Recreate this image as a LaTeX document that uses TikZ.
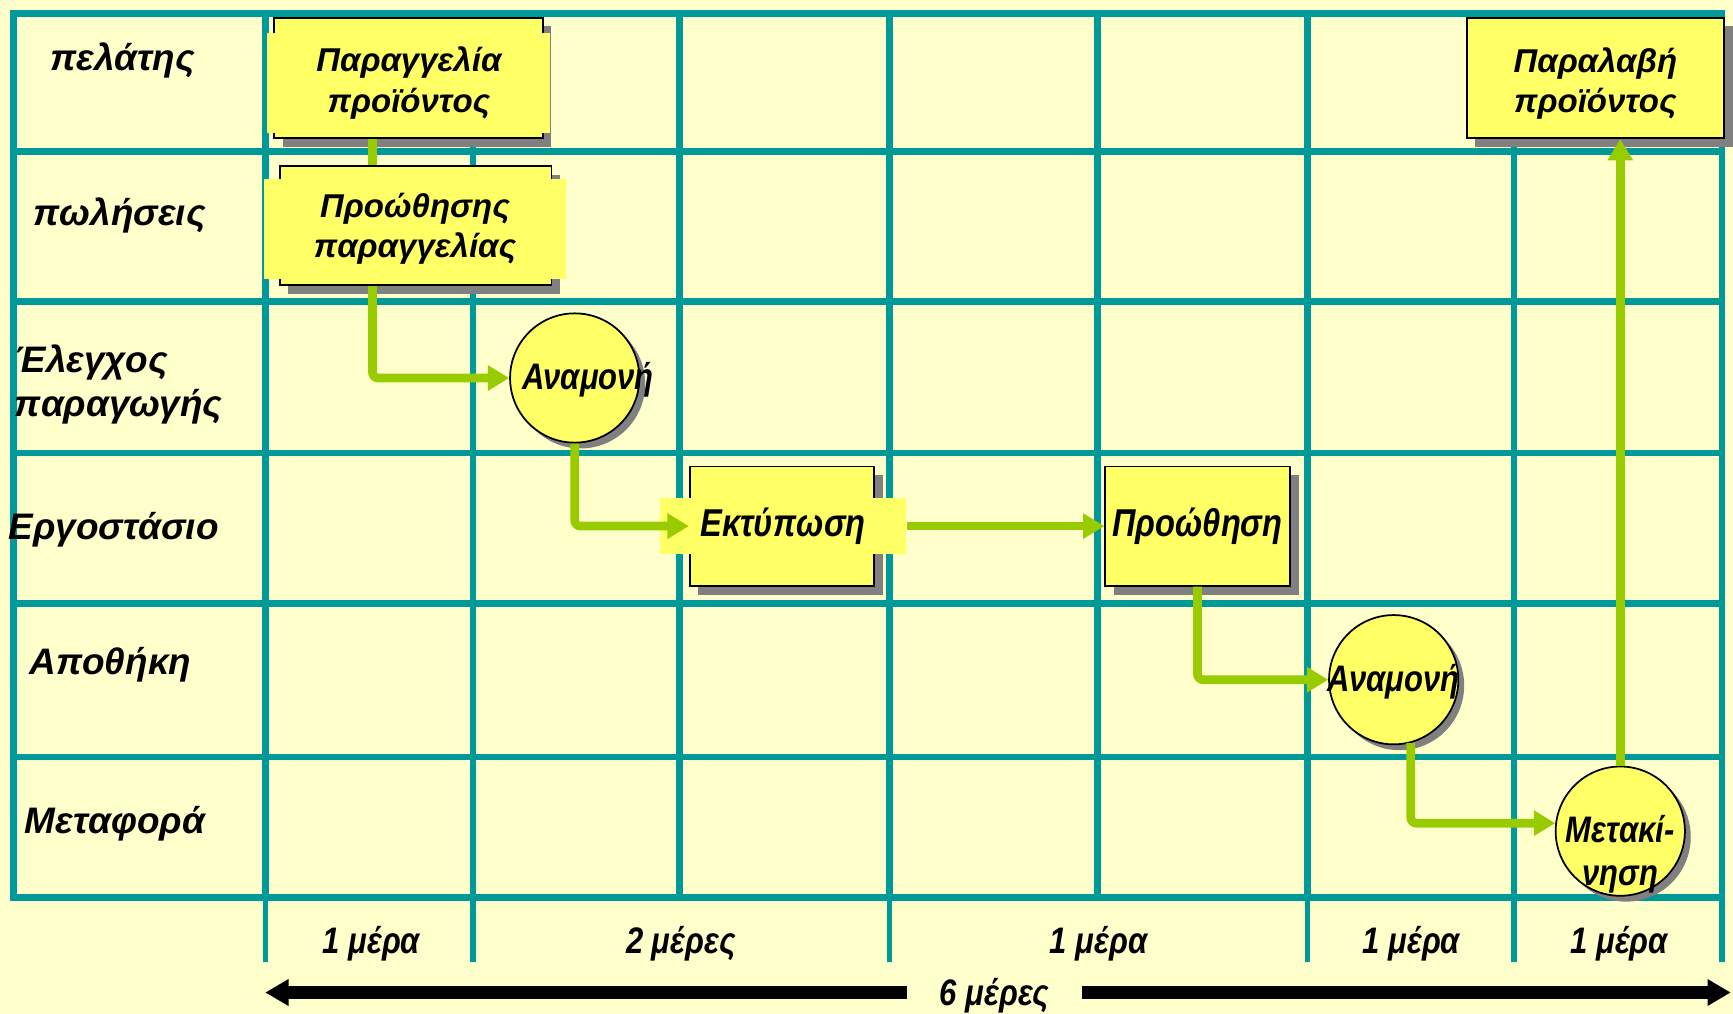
\documentclass[tikz,border=0pt]{standalone}
\usepackage{fontspec}
\setmainfont{Liberation Sans}
\newfontfamily\narrowfont{Liberation Sans}[FakeStretch=0.84]
\usepackage{xcolor}
\usetikzlibrary{positioning}
\usetikzlibrary{arrows.meta}
\usetikzlibrary{shadows}

\definecolor{bgyellow}{HTML}{FFFFCC}
\definecolor{gridteal}{HTML}{009999}
\definecolor{boxyellow}{HTML}{FFFF66}
\definecolor{flowgreen}{HTML}{99CC00}
\definecolor{shadowgrey}{HTML}{808080}

\begin{document}
\begin{tikzpicture}[
x=0.02cm, y=-0.02cm,
gridline/.style={gridteal, line width=3.4pt},
lanenode/.style={font=\bfseries\itshape\fontsize{19}{23}\selectfont, inner sep=0pt},
tasknode/.style={rectangle, draw=black, line width=0.9pt, fill=boxyellow, inner sep=0pt,
  drop shadow={shadow xshift=4.5pt, shadow yshift=-4.5pt, fill=shadowgrey, opacity=1}},
patchnode/.style={rectangle, fill=boxyellow, inner sep=0pt, align=center,
  font=\bfseries\itshape\fontsize{17}{21}\selectfont},
boxtext/.style={align=center, font=\bfseries\itshape\fontsize{17}{21}\selectfont},
waitnode/.style={circle, draw=black, line width=0.9pt, fill=boxyellow, inner sep=0pt, minimum size=2.34cm,
  drop shadow={shadow xshift=3pt, shadow yshift=-3pt, fill=shadowgrey, opacity=1}},
narrowtext/.style={font=\narrowfont\bfseries\itshape\fontsize{19}{22}\selectfont, align=center},
widetext/.style={font=\narrowfont\bfseries\itshape\fontsize{20}{22}\selectfont, align=center},
flowline/.style={flowgreen, line width=4.5pt, rounded corners=3pt},
flow/.style={flowline, -{Triangle[width=12.5pt, length=11pt]}},
spanarrow/.style={black, line width=6.2pt, {Triangle[width=13pt, length=12pt]}-{Triangle[width=13pt, length=12pt]}},
]
\useasboundingbox (0,0) rectangle (1568,917);
\fill[bgyellow] (0,0) rectangle (1568,917);

%Grid
\foreach \gx in {12,240,428,615,805,993,1183,1370,1558}
  \draw[gridline] (\gx,12) -- (\gx,812);
\foreach \gy in {12,137,273,410,546,685,812}
  \draw[gridline, line cap=rect] (12,\gy) -- (1558,\gy);
\foreach \gx in {240,428,805,1183,1370,1558}
  \draw[gridline, line width=2.8pt] (\gx,812) -- (\gx,870);

%Lanes
\node[lanenode] (client)  at (111,55)  {πελάτης};
\node[lanenode] (sales)   at (108,195) {πωλήσεις};
\node[lanenode, align=left, anchor=west] (control) at (13,348) {Έλεγχος\\παραγωγής};
\node[lanenode] (factory) at (103,479) {Εργοστάσιο};
\node[lanenode] (store)   at (100,601) {Αποθήκη};
\node[lanenode] (transp)  at (104,745) {Μεταφορά};

%Nodes
\node[tasknode, minimum width=4.86cm, minimum height=2.18cm] (order) at (369.5,70.5) {};
\node[patchnode, minimum width=5.12cm, minimum height=1.82cm] (ordertext) at (370,75) {Παραγγελία\\προϊόντος};
\node[tasknode, minimum width=4.92cm, minimum height=2.16cm] (fwd) at (376,204) {};
\node[patchnode, minimum width=5.46cm, minimum height=1.8cm] (fwdtext) at (375.5,207) {Προώθησης\\παραγγελίας};
\node[waitnode, label={[narrowtext, xshift=0.24cm, yshift=-0.04cm]center:Αναμονή}] (wait1) at (520,342) {};
\node[tasknode, minimum width=3.34cm, minimum height=2.16cm] (print) at (707.5,476) {};
\node[patchnode, widetext, minimum width=4.46cm, minimum height=1cm] (printtext) at (708.5,476) {Εκτύπωση};
\node[tasknode, widetext, minimum width=3.34cm, minimum height=2.16cm] (push) at (1083.5,476) {Προώθηση};
\node[waitnode, label={[narrowtext, yshift=-0.04cm]center:Αναμονή}] (wait2) at (1261,615) {};
\node[waitnode, label={[narrowtext, yshift=-0.42cm]center:Μετακί-\\νηση}] (move) at (1466,752) {};
\node[tasknode, minimum width=4.66cm, minimum height=2.18cm,
  label={[boxtext, yshift=-0.1cm]center:Παραλαβή\\προϊόντος}] (receive) at (1443.5,70.5) {};

%Lines
\coordinate (salesdrop) at (337,0);
\draw[flowline] (salesdrop |- order.south) -- (salesdrop |- fwd.north);
\draw[flow] (salesdrop |- fwd.south) |- (wait1.west);
\draw[flow] (wait1.south) |- (print.west);
\draw[flow] (printtext.east) -- (push.west);
\draw[flow] (push.south) |- (wait2.west);
\draw[flow] (wait2.-75) |- (move.173);
\draw[flow] (move.north) -- (move.north |- receive.south);

%Days
\node[narrowtext] (d1) at (336,854)  {1 μέρα};
\node[narrowtext] (d2) at (616,854)  {2 μέρες};
\node[narrowtext] (d3) at (994,854)  {1 μέρα};
\node[narrowtext] (d4) at (1277,854) {1 μέρα};
\node[narrowtext] (d5) at (1465,854) {1 μέρα};

\coordinate (spanL) at (240,898);
\coordinate (spanR) at (1566,898);
\draw[spanarrow] (spanL) -- (spanR);
\node[narrowtext, fill=bgyellow, minimum width=3.16cm] (total) at (900,901) {6 μέρες};
\end{tikzpicture}
\end{document}
